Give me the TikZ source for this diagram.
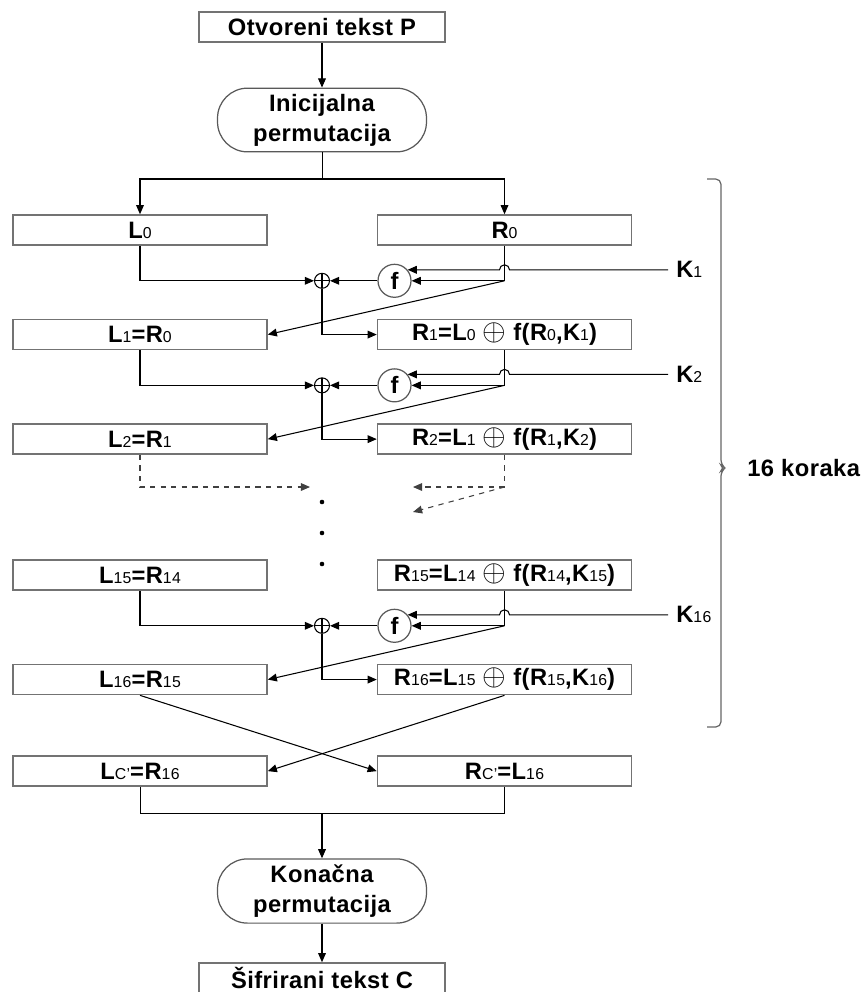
\documentclass[tikz,border=0pt]{standalone}
\usepackage{fontspec}
\setmainfont{Liberation Sans}[LetterSpace=2]
\usetikzlibrary{positioning,calc,arrows.meta}

\newcommand{\sub}[1]{{\fontsize{9}{9}\selectfont\mdseries #1}}
\newcommand{\oplustxt}{{\fontsize{17}{17}\selectfont$\oplus$}}

\begin{document}
\begin{tikzpicture}[x=0.02cm,y=-0.02cm]

\tikzset{
     block/.style={
     	rectangle,
     	draw=black!55,
     	line width=0.9pt,
     	fill=white,
     	inner sep=0pt,
     	minimum height=0.6cm,minimum width=5.08cm,
     	font=\fontsize{13.5}{16}\selectfont\bfseries
     }
}

\tikzset{
	perm/.style={
		rectangle,
		rounded corners=0.6cm,
		draw=black!65,
		line width=0.7pt,
		align=center,
		minimum height=1.22cm,minimum width=4.18cm,
		font=\fontsize{13.5}{17}\selectfont\bfseries
	}
}

\tikzset{
	fbox/.style={
		circle,
		draw=black!65,
		line width=0.7pt,
		inner sep=0pt,
		minimum size=0.66cm,
		font=\fontsize{13.5}{16}\selectfont\bfseries
	}
}

\tikzset{
	xorop/.style={
		circle,
		draw,
		line width=0.6pt,
		inner sep=0pt,
		minimum size=0.3cm,
		path picture={
			\draw[line width=0.6pt] (path picture bounding box.north) -- (path picture bounding box.south)
			      (path picture bounding box.west) -- (path picture bounding box.east);
		}
	}
}

\tikzset{
	flow/.style={draw, line width=0.6pt, -{Triangle[length=5.2pt,width=4.4pt]}},
	klabel/.style={anchor=west, inner sep=0.16cm, font=\fontsize{13.5}{16}\selectfont\bfseries},
	dotmark/.style={circle, fill=black, inner sep=0pt, minimum size=2.6pt}
}

\def\colgap{2.18cm}
\def\rowgap{1.46cm}

\useasboundingbox (0,0) rectangle (867,992);

% plain text and initial permutation
\node[block, minimum width=4.92cm] (plain) at (322,27) {Otvoreni tekst P};
\node[perm] (initp) at (322,120) {Inicijalna\\permutacija};
\draw[flow] (plain) -- (initp);
\coordinate (split) at (322,179);
\draw (initp.south) -- (split);

% halves
\node[block] (l0) at (140,230) {L\sub{0}};
\node[block, right=\colgap of l0] (r0) {R\sub{0}};
\draw[flow] (split) -| (l0.north);
\draw[flow] (split) -| (r0.north);

\coordinate (kx) at (668,0);

% round 1
\node[block, below=\rowgap of l0] (l1) {L\sub{1}=R\sub{0}};
\node[block, right=\colgap of l1] (r1) {R\sub{1}=L\sub{0} \oplustxt{} f(R\sub{0},K\sub{1})};
\node[fbox] (f1) at ($(r0.south)+(-110,35)$) {f};
\node[xorop] (x1) at (split |- f1) {};
\node[klabel] (k1) at (f1.40 -| kx) {K\sub{1}};
\draw (r0.south) -- (r0.south |- f1) coordinate (t1);
\draw[flow] (k1.west) -- ($(t1 |- k1)+(5,0)$) arc[start angle=0,end angle=180,radius=0.1cm] -- (f1.40);
\draw[flow] (t1) -- (f1.east);
\draw[flow] (t1) -- (l1.east);
\draw[flow] (f1) -- (x1);
\draw[flow] (l0.south) |- (x1.west);
\draw[flow] (x1.south) |- (r1.west);

% round 2
\node[block, below=\rowgap of l1] (l2) {L\sub{2}=R\sub{1}};
\node[block, right=\colgap of l2] (r2) {R\sub{2}=L\sub{1} \oplustxt{} f(R\sub{1},K\sub{2})};
\node[fbox] (f2) at ($(r1.south)+(-110,35)$) {f};
\node[xorop] (x2) at (split |- f2) {};
\node[klabel] (k2) at (f2.40 -| kx) {K\sub{2}};
\draw (r1.south) -- (r1.south |- f2) coordinate (t2);
\draw[flow] (k2.west) -- ($(t2 |- k2)+(5,0)$) arc[start angle=0,end angle=180,radius=0.1cm] -- (f2.40);
\draw[flow] (t2) -- (f2.east);
\draw[flow] (t2) -- (l2.east);
\draw[flow] (f2) -- (x2);
\draw[flow] (l1.south) |- (x2.west);
\draw[flow] (x2.south) |- (r2.west);

% rounds 3 to 15
\coordinate (dl) at (310,487);
\coordinate (dr) at (413,487);
\coordinate (drd) at (413,512);
\draw[flow, dashed, black!75] (l2.south) |- (dl);
\draw[dashed, black!75] (r2.south) -- (r2.south |- dr) coordinate (t3);
\draw[flow, dashed, black!75] (t3) -- (dr);
\draw[flow, dashed, black!75] (t3) -- (drd);
\node[dotmark] (dot1) at (322,502) {};
\node[dotmark] (dot2) at (322,533) {};
\node[dotmark] (dot3) at (322,564) {};

% round 16
\node[block] (l15) at (140,575) {L\sub{15}=R\sub{14}};
\node[block, right=\colgap of l15] (r15) {R\sub{15}=L\sub{14} \oplustxt{} f(R\sub{14},K\sub{15})};
\node[block, below=\rowgap of l15] (l16) {L\sub{16}=R\sub{15}};
\node[block, right=\colgap of l16] (r16) {R\sub{16}=L\sub{15} \oplustxt{} f(R\sub{15},K\sub{16})};
\node[fbox] (f16) at ($(r15.south)+(-110,35)$) {f};
\node[xorop] (x16) at (split |- f16) {};
\node[klabel] (k16) at (f16.40 -| kx) {K\sub{16}};
\draw (r15.south) -- (r15.south |- f16) coordinate (t16);
\draw[flow] (k16.west) -- ($(t16 |- k16)+(5,0)$) arc[start angle=0,end angle=180,radius=0.1cm] -- (f16.40);
\draw[flow] (t16) -- (f16.east);
\draw[flow] (t16) -- (l16.east);
\draw[flow] (f16) -- (x16);
\draw[flow] (l15.south) |- (x16.west);
\draw[flow] (x16.south) |- (r16.west);

% swap
\node[block, below=1.2cm of l16] (lc) {L\sub{C'}=R\sub{16}};
\node[block, right=\colgap of lc] (rc) {R\sub{C'}=L\sub{16}};
\draw[flow] (l16.south) -- (rc.west);
\draw[flow] (r16.south) -- (lc.east);

% final permutation and cipher text
\coordinate (merge) at (322,813);
\draw (lc.south) |- (merge) -| (rc.south);
\node[perm] (finp) at (322,891) {Konačna\\permutacija};
\draw[flow] (merge) -- (finp);
\node[block, minimum width=4.92cm] (cipher) at (322,978) {Šifrirani tekst C};
\draw[flow] (finp) -- (cipher);

% brace
\draw[black!60, line width=0.7pt, rounded corners=3pt] (707,179) -- (721,179) -- (721,465) -- (725,468) -- (721,471) -- (721,727) -- (707,727);
\node[anchor=west, inner sep=0pt, font=\fontsize{13.5}{16}\selectfont\bfseries] (steps) at (747,468) {16 koraka};

\end{tikzpicture}
\end{document}
